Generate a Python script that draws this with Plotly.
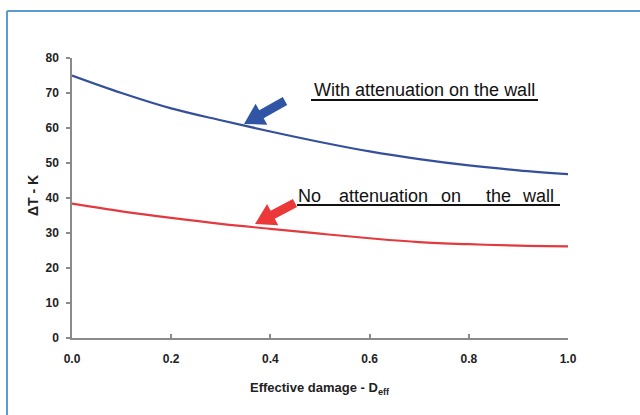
import plotly.graph_objects as go

# ---- data ----
damage = [0.0, 0.1, 0.2, 0.3, 0.4, 0.5, 0.6, 0.7, 0.8, 0.9, 1.0]
with_att = [75.0, 70.0, 65.6, 62.2, 59.0, 56.0, 53.3, 51.1, 49.3, 47.9, 46.8]
no_att = [38.4, 36.2, 34.3, 32.6, 31.2, 29.8, 28.5, 27.4, 26.8, 26.4, 26.2]
x_ticks = [0.0, 0.2, 0.4, 0.6, 0.8, 1.0]
x_tick_text = ["0.0", "0.2", "0.4", "0.6", "0.8", "1.0"]
y_ticks = [0, 10, 20, 30, 40, 50, 60, 70, 80]

BLUE = "#34509c"
RED = "#e23a3f"

# layout geometry (pixels)
W, H = 640, 415
ML, MR, MT, MB = 72, 72, 58, 77
PW, PH = W - ML - MR, H - MT - MB
XR = (0.0, 1.0)
YR = (0.0, 80.0)


def px2x(px):
    return XR[0] + (px - ML) / PW * (XR[1] - XR[0])


def py2y(py):
    return YR[0] + (MT + PH - py) / PH * (YR[1] - YR[0])


def arrow_path(tip, tail, hl=20, hw=12, sw=4.5):
    tx, ty = tip
    dx, dy = tail[0] - tx, tail[1] - ty
    L = (dx * dx + dy * dy) ** 0.5
    ux, uy = dx / L, dy / L
    nx, ny = -uy, ux
    pts = [
        (tx, ty),
        (tx + hl * ux + hw * nx, ty + hl * uy + hw * ny),
        (tx + hl * ux + sw * nx, ty + hl * uy + sw * ny),
        (tx + L * ux + sw * nx, ty + L * uy + sw * ny),
        (tx + L * ux - sw * nx, ty + L * uy - sw * ny),
        (tx + hl * ux - sw * nx, ty + hl * uy - sw * ny),
        (tx + hl * ux - hw * nx, ty + hl * uy - hw * ny),
    ]
    d = "M " + " L ".join(f"{px2x(p[0]):.5f},{py2y(p[1]):.4f}" for p in pts) + " Z"
    return d


fig = go.Figure()
fig.add_trace(go.Scatter(x=damage, y=with_att, mode="lines",
                         line=dict(color=BLUE, width=2.2, shape="spline"),
                         showlegend=False))
fig.add_trace(go.Scatter(x=damage, y=no_att, mode="lines",
                         line=dict(color=RED, width=2.2, shape="spline"),
                         showlegend=False))

tick_font = dict(family="Liberation Sans, Arial, sans-serif", size=12,
                 color="#222222", weight="bold")

fig.update_xaxes(range=list(XR), tickvals=x_ticks, ticktext=x_tick_text,
                 showgrid=False, zeroline=False, showline=True,
                 linecolor="#8a8a8a", linewidth=1.5, ticks="inside", ticklen=4,
                 tickcolor="#8a8a8a", tickwidth=1.5, tickfont=tick_font,
                 ticklabelstandoff=9)
fig.update_yaxes(range=list(YR), tickvals=y_ticks,
                 showgrid=False, zeroline=False, showline=True,
                 linecolor="#8a8a8a", linewidth=1.5, ticks="outside", ticklen=4,
                 tickcolor="#8a8a8a", tickwidth=1.5, tickfont=tick_font,
                 ticklabelstandoff=5)

shapes = []
# outer frame (light blue)
shapes.append(dict(type="line", xref="paper", yref="paper",
                   x0=(7 - ML) / PW, x1=(W + 5 - ML) / PW,
                   y0=(MT + PH - 11) / PH, y1=(MT + PH - 11) / PH,
                   line=dict(color="#5b9bd5", width=2)))
shapes.append(dict(type="line", xref="paper", yref="paper",
                   x0=(7 - ML) / PW, x1=(7 - ML) / PW,
                   y0=(MT + PH - 11) / PH, y1=(MT + PH - H - 5) / PH,
                   line=dict(color="#5b9bd5", width=2)))
# underlines
shapes.append(dict(type="line", xref="x", yref="y",
                   x0=px2x(311), x1=px2x(538), y0=py2y(100), y1=py2y(100),
                   line=dict(color="#111111", width=2)))
shapes.append(dict(type="line", xref="x", yref="y",
                   x0=px2x(297), x1=px2x(560), y0=py2y(205), y1=py2y(205),
                   line=dict(color="#111111", width=2)))
# block arrows
shapes.append(dict(type="path", xref="x", yref="y",
                   path=arrow_path((244, 124), (285, 101)),
                   fillcolor="#2f55a4", line=dict(width=0)))
shapes.append(dict(type="path", xref="x", yref="y",
                   path=arrow_path((255, 224), (295, 203)),
                   fillcolor="#ec3838", line=dict(width=0)))

label_font = dict(family="Liberation Sans, Arial, sans-serif", size=18, color="#111111")
annotations = [
    dict(text="With attenuation on the wall", x=px2x(424.5), y=py2y(90),
         xref="x", yref="y", showarrow=False, xanchor="center", yanchor="middle",
         font=label_font),
]
for word, left in [("No", 297), ("attenuation", 337.5), ("on", 440),
                   ("the", 485), ("wall", 521)]:
    annotations.append(dict(text=word, x=px2x(left), y=py2y(196),
                            xref="x", yref="y", showarrow=False,
                            xanchor="left", yanchor="middle", xshift=-1,
                            font=label_font))
title_font = dict(family="Liberation Sans, Arial, sans-serif", size=13, color="#222222")
annotations.append(dict(text="<b>Effective damage - D<sub>eff</sub></b>",
                        x=(320 - ML) / PW, y=(MT + PH - 388) / PH,
                        xref="paper", yref="paper", showarrow=False,
                        xanchor="center", yanchor="middle", font=title_font))
annotations.append(dict(text="<b>\u0394T\u00a0-\u00a0K</b>",
                        x=(33 - ML) / PW, y=(MT + PH - 196) / PH,
                        xref="paper", yref="paper", showarrow=False,
                        xanchor="center", yanchor="middle", textangle=-90,
                        font=dict(family="Liberation Sans, Arial, sans-serif",
                                  size=14, color="#222222")))

fig.update_layout(width=W, height=H,
                  margin=dict(l=ML, r=MR, t=MT, b=MB, autoexpand=False),
                  paper_bgcolor="white", plot_bgcolor="white",
                  shapes=shapes, annotations=annotations, showlegend=False)

fig.write_html("out.html")
